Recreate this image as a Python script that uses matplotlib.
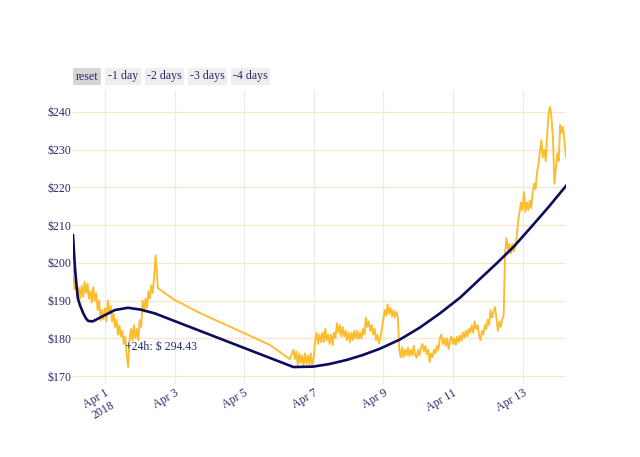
import matplotlib
matplotlib.use("Agg")
import matplotlib.pyplot as plt
from matplotlib.patches import FancyBboxPatch
import pandas as pd

BASE = pd.Timestamp("2018-04-01 00:00")

# ---- yellow price series: hourly samples (hours since Apr 1 00:00) ----
seg1_start = -22
seg1_vals = [198.5, 193, 195.5, 191, 193.5, 190.5, 194, 191, 195, 192,
             194.5, 190.5, 192.5, 189.5, 193.5, 190, 192, 187.5, 190, 184.8,
             187.5, 185, 188, 184.5, 190, 186.5, 188.5, 184.5, 186.5, 183,
             185, 181, 183.5, 180.5, 182, 178.5, 180.5, 176, 172.4, 179.5,
             182.5, 179.5, 183.5, 180, 182.5, 179.5, 184.8, 183, 190, 187,
             190.5, 188, 192.5, 190.5, 194, 192, 196.5, 202, 196]
gap_hours = [36.5, 48, 65.5, 96.5, 114, 127.5]
gap_vals = [193.3, 190.2, 186.7, 181.3, 178.2, 174.5]
seg2_start = 130
seg2_vals = [177, 174.5, 176.5, 173, 176, 173.5, 175.5, 172.8, 176, 173.2,
             175.5, 173, 176, 172.8, 175, 179.5, 181.5, 178.5, 181, 179,
             181.5, 179, 182.5, 179.5, 181, 178.5, 181, 178.2, 181.5, 180,
             184, 181.5, 183.5, 180.5, 183, 180.5, 182, 179.5, 181.5, 179,
             181.5, 179.5, 182, 180, 182, 179.8, 181.5, 180, 182.5, 181,
             185.5, 183, 184.5, 182, 183.5, 181, 182.5, 179.5, 181, 178.7,
             180, 182.5, 185, 187.5, 186, 189, 186.5, 188, 185.8, 187.5,
             185.5, 187, 185.8, 177, 175, 177.7, 175, 177, 175.5, 177.5,
             175.3, 177, 175.5, 178, 175.5, 174.8, 177, 175.5, 177.5, 178.5,
             176.5, 178, 175.8, 177, 173.7, 176, 175, 177, 176, 178,
             177, 180, 181, 178.5, 180, 178, 180, 177.2, 179.5, 180.5,
             178.5, 180, 178.2, 180.5, 179, 180.8, 179.3, 181.5, 180.2, 182,
             180.5, 182.5, 181.5, 183.5, 181.5, 184.5, 182.5, 183.5, 181, 179.5,
             182, 181, 183.5, 182.5, 185, 183.5, 187.5, 185.5, 187, 188.3,
             185.5, 182, 184.5, 183, 185, 186, 203, 206.5, 203.5, 205,
             202.5, 205, 203, 204.5, 207, 211, 213.5, 216, 214, 218.8,
             213.5, 216, 214, 216.5, 214.5, 218.5, 221, 219.5, 224, 226,
             229.5, 232.5, 228, 230, 227, 234, 239.5, 241.3, 238.5, 233,
             221, 225, 229, 227, 236.5, 234.5, 236, 232, 228]

# ---- navy trend curve ----
trend_hours = [-22, -20.7, -19.5, -18.6, -17.2, -15, -13.1, -11.5, -8.3, -2.8, 6.9, 15.9, 24.8,
               34.5, 36.5, 130, 143.5, 155, 167, 178, 190, 203.5, 217, 231, 245, 258, 270,
               282, 294, 306, 318]
trend_vals = [207.3, 199, 193.6, 190.5, 188.8, 186.7, 185.3, 184.6, 184.5, 185.6, 187.5, 188.1,
              187.6, 186.6, 186.3, 172.4, 172.5, 173.2, 174.3, 175.6, 177.3, 179.7, 182.8,
              186.6, 190.8, 195.5, 199.8, 204.3, 209.5, 214.8, 220.4]

y_ticks = [170, 180, 190, 200, 210, 220, 230, 240]
x_tick_dates = ["2018-04-01", "2018-04-03", "2018-04-05", "2018-04-07", "2018-04-09",
                "2018-04-11", "2018-04-13"]
x_tick_labels = ["Apr 1\n2018", "Apr 3", "Apr 5", "Apr 7", "Apr 9", "Apr 11", "Apr 13"]
buttons = ["reset", "-1 day", "-2 days", "-3 days", "-4 days"]
annot_text = "+24h: $ 294.43"
annot_hour, annot_val = 13.8, 177.6

def to_time(hours):
    return [BASE + pd.Timedelta(hours=h) for h in hours]

y_hours = list(range(seg1_start, seg1_start + len(seg1_vals))) + gap_hours + \
          list(range(seg2_start, seg2_start + len(seg2_vals)))
y_vals = seg1_vals + gap_vals + seg2_vals

TXT = "#2a2a6e"
FONT = "Liberation Serif"

fig = plt.figure(figsize=(6.4, 4.57), dpi=100)
ax = fig.add_axes([73/640, (457-384)/457, 493/640, 294/457])

ax.plot(to_time(y_hours), y_vals, color="#fbbc2d", lw=1.35, zorder=3)
ax.plot(to_time(trend_hours), trend_vals, color="#0c0c5e", lw=1.9, zorder=4)

ax.set_xlim(to_time([y_hours[0]])[0], to_time([y_hours[-1]])[0])
ax.set_ylim(167.9, 245.8)

ax.set_yticks(y_ticks)
ax.set_yticklabels([f"${v}" for v in y_ticks], fontfamily=FONT, fontsize=8.6, color=TXT)
ax.set_xticks([pd.Timestamp(d) for d in x_tick_dates])
ax.set_xticklabels(x_tick_labels, fontfamily=FONT, fontsize=8.6, color=TXT,
                   rotation=30, ha="right", va="top", rotation_mode="anchor",
                   multialignment="center")
ax.tick_params(axis="both", length=0)
ax.tick_params(axis="y", pad=1)
ax.tick_params(axis="x", pad=2)

ax.grid(axis="y", color="#fde5cc", lw=0.9, zorder=0)
ax.grid(axis="x", color="#ececec", lw=0.9, zorder=0)
for s in ax.spines.values():
    s.set_visible(False)

ax.text(to_time([annot_hour])[0], annot_val, annot_text, fontfamily=FONT, fontsize=8.6,
        color=TXT, ha="left", va="center", zorder=5)

# range selector buttons (figure pixel coordinates)
btn_x = [73, 105, 145, 188, 231]
btn_w = [28, 36, 39, 39, 39]
for lbl, bx, bw in zip(buttons, btn_x, btn_w):
    fc = "#d6d6d6" if lbl == "reset" else "#eeeeee"
    p = FancyBboxPatch((bx/640, (457-85)/457), bw/640, 17/457,
                       boxstyle="round,pad=0,rounding_size=0.003",
                       transform=fig.transFigure, fc=fc, ec="none")
    fig.patches.append(p)
    fig.text((bx + bw/2)/640, (457-76.5)/457, lbl, fontfamily=FONT, fontsize=8.6,
             color=TXT, ha="center", va="center")

fig.savefig("out.png", dpi=100)
